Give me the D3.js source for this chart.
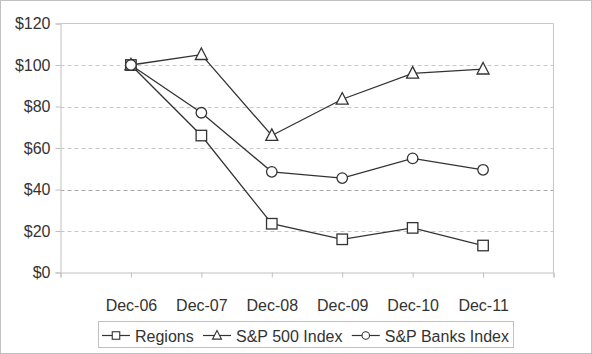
<!DOCTYPE html>
<html><head><meta charset="utf-8">
<script src="https://cdn.jsdelivr.net/npm/d3@7"></script>
<style>body{margin:0;background:#fff}svg{display:block}text{font-family:"Liberation Sans",Arial,sans-serif;fill:#333}</style>
</head><body><svg id="c" width="592" height="354"></svg>
<script>
const categories = ["Dec-06","Dec-07","Dec-08","Dec-09","Dec-10","Dec-11"];
const regions = [100, 66, 23.5, 16, 21.5, 13];
const sp500 = [100, 105, 66, 83.5, 96, 98];
const banks = [100, 77, 48.5, 45.5, 55, 49.5];
const yTicks = [0, 20, 40, 60, 80, 100, 120];
const seriesNames = ["Regions", "S&P 500 Index", "S&P Banks Index"];
const seriesSymbols = ["square", "triangle", "circle"];

const svg = d3.select("#c");
const W = 592, H = 354, FS = "16px";
const x = d3.scaleLinear().domain([0, categories.length + 1]).range([60.5, 553.5]);
const y = d3.scaleLinear().domain([0, 120]).range([272.5, 23.5]);

svg.append("rect").attr("x",0.5).attr("y",0.5).attr("width",W-1).attr("height",H-1)
  .attr("fill","#fff").attr("stroke","#c0c0c0");

// gridlines
svg.append("g").selectAll("line").data(yTicks.filter(d=>d>0 && d<120)).join("line")
  .attr("x1",x(0)).attr("x2",x(categories.length+1))
  .attr("y1",d=>Math.round(y(d))+0.5).attr("y2",d=>Math.round(y(d))+0.5)
  .attr("stroke",d=>d===40?"#a8a8a8":"#c8c8c8").attr("stroke-dasharray","4,3");
svg.append("line").attr("x1",x(0)).attr("x2",x(categories.length+1))
  .attr("y1",y(120)).attr("y2",y(120)).attr("stroke","#c8c8c8");
svg.append("line").attr("x1",x(categories.length+1)).attr("x2",x(categories.length+1))
  .attr("y1",y(120)).attr("y2",y(0)).attr("stroke","#c8c8c8");

// y axis
const ya = svg.append("g").attr("transform",`translate(${x(0)},0)`)
  .call(d3.axisLeft(y).tickValues(yTicks).tickSize(5).tickPadding(5).tickFormat(d=>"$"+d));
ya.select(".domain").attr("stroke","#c0c0c0");
ya.selectAll(".tick line").attr("stroke","#c0c0c0");
ya.selectAll(".tick text").attr("font-size",FS).attr("fill","#333").attr("font-family","Liberation Sans, Arial, sans-serif");

// x axis
const xa = svg.append("g").attr("transform",`translate(0,${y(0)})`)
  .call(d3.axisBottom(x).tickValues(d3.range(0, categories.length+2)).tickSize(5).tickPadding(22)
    .tickFormat(i => (i>=1 && i<=categories.length) ? categories[i-1] : ""));
xa.select(".domain").attr("stroke","#c0c0c0");
xa.selectAll(".tick line").attr("stroke","#c0c0c0");
xa.selectAll(".tick text").attr("font-size",FS).attr("fill","#333").attr("font-family","Liberation Sans, Arial, sans-serif");

const data = [regions, sp500, banks];
const line = d3.line().x((d,i)=>x(i+1)).y(d=>y(d));
function marker(g, type, cx, cy, s){
  if(type==="square") g.append("rect").attr("x",cx-s/2).attr("y",cy-s/2).attr("width",s).attr("height",s);
  else if(type==="circle") g.append("circle").attr("cx",cx).attr("cy",cy).attr("r",s/2);
  else { const h = s*0.9; g.append("path").attr("d",`M${cx},${cy-h*0.62}L${cx+s/2},${cy+h*0.45}L${cx-s/2},${cy+h*0.45}Z`); }
}
data.forEach((vals, k) => {
  svg.append("path").datum(vals).attr("d", line).attr("fill","none").attr("stroke","#333").attr("stroke-width",1.3);
});
data.forEach((vals, k) => {
  const g = svg.append("g").attr("fill","#fff").attr("stroke","#333").attr("stroke-width",1.3);
  vals.forEach((v,i)=> marker(g, seriesSymbols[k], x(i+1), y(v), k===1?12:10.5));
});

// legend
svg.append("rect").attr("x",98.5).attr("y",321.5).attr("width",415).attr("height",26)
  .attr("fill","#fff").attr("stroke","#c0c0c0");
const lg = svg.append("g");
const cy = 335.5, symW = 28, symGap = 5, start = 102, end = 509;
const texts = seriesNames.map(n => lg.append("text").attr("y", cy+6).attr("font-size",FS).text(n));
const tw = texts.map(t => t.node().getComputedTextLength());
const gap = (end - start - 3*(symW+symGap) - d3.sum(tw)) / 2;
let cx0 = start;
seriesNames.forEach((n,k)=>{
  const x0 = cx0;
  lg.append("line").attr("x1",x0).attr("x2",x0+symW).attr("y1",cy).attr("y2",cy).attr("stroke","#333").attr("stroke-width",1.2);
  const g = lg.append("g").attr("fill","#fff").attr("stroke","#333").attr("stroke-width",1.1);
  marker(g, seriesSymbols[k], x0+symW/2, cy, k===1?9:7.5);
  texts[k].attr("x", x0+symW+symGap);
  cx0 = x0 + symW + symGap + tw[k] + gap;
});
</script></body></html>
